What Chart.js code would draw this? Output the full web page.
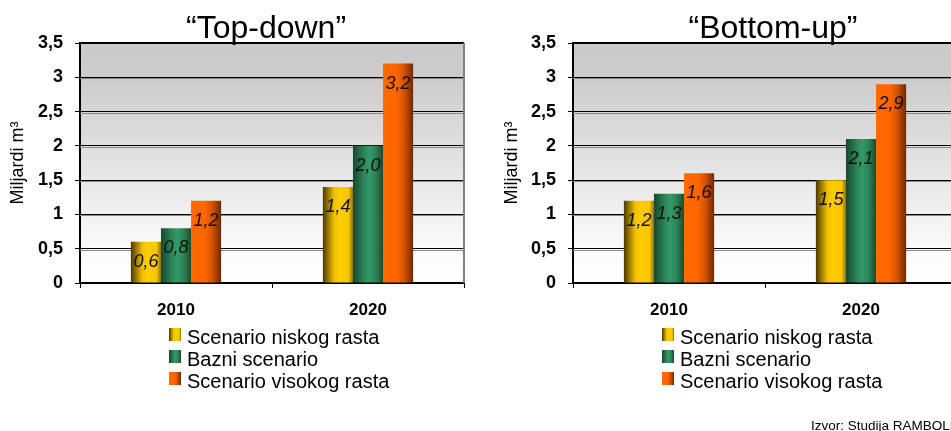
<!DOCTYPE html>
<html>
<head>
<meta charset="utf-8">
<title>Potrošnja gasa – scenariji</title>
<script src="https://cdn.jsdelivr.net/npm/chart.js@4/dist/chart.umd.min.js"></script>
<style>
  html, body { margin: 0; padding: 0; background: #fff; overflow: hidden; width: 951px; height: 431px; }
  canvas { position: absolute; top: 0; }
  #topDown { left: 0; }
  #bottomUp { left: 480px; }
</style>
</head>
<body>
<canvas id="topDown" width="480" height="431"></canvas>
<canvas id="bottomUp" width="490" height="431"></canvas>
<script>
// ---- data ----
const categories = ['2010', '2020'];
const seriesNames = ['Scenario niskog rasta', 'Bazni scenario', 'Scenario visokog rasta'];

const topDownLow  = [0.6, 1.4];
const topDownBase = [0.8, 2.0];
const topDownHigh = [1.2, 3.2];

const bottomUpLow  = [1.2, 1.5];
const bottomUpBase = [1.3, 2.1];
const bottomUpHigh = [1.6, 2.9];

const yTickLabels = ['0', '0,5', '1', '1,5', '2', '2,5', '3', '3,5'];
const yMax = 3.5;
const yStep = 0.5;

// ---- styling ----
const FONT = '"Liberation Sans", Arial, Helvetica, sans-serif';
const flatColors = ['#ffcc00', '#339966', '#ff6600'];
// left-to-right shading of each series: [offset, colour]
const shades = [
  [[0, '#4a3a00'], [0.38, '#f0c000'], [0.55, '#ffcc00'], [0.85, '#f7c700'], [1, '#8c7000']],
  [[0, '#17472e'], [0.4, '#2e8c5c'], [0.55, '#339966'], [0.75, '#2c8457'], [1, '#174a30']],
  [[0, '#ff6a00'], [0.45, '#ff6600'], [0.7, '#d65300'], [1, '#6e2800']]
];

function hGradient(ctx, x0, x1, stops) {
  const g = ctx.createLinearGradient(x0, 0, x1, 0);
  stops.forEach(([o, c]) => g.addColorStop(o, c));
  return g;
}

function formatValue(v) {
  return v.toFixed(1).replace('.', ',');
}

// plot background, bar shading, value labels, heading, legend and note
const plotDecor = {
  id: 'plotDecor',
  beforeDraw(chart) {
    const { ctx, chartArea: a } = chart;
    const g = ctx.createLinearGradient(0, a.top, 0, a.bottom);
    g.addColorStop(0, '#cacaca');
    g.addColorStop(0.14, '#cccccc');
    g.addColorStop(0.5, '#e3e3e3');
    g.addColorStop(0.85, '#fafafa');
    g.addColorStop(1, '#ffffff');
    ctx.save();
    ctx.fillStyle = g;
    ctx.fillRect(a.left, a.top, a.right - a.left, a.bottom - a.top);
    ctx.restore();
  },
  beforeDatasetsDraw(chart) {
    const { ctx, chartArea: a } = chart;
    const ys = chart.scales.y;
    // soft shadow under every grid line
    ctx.save();
    ctx.strokeStyle = '#8a8a8a';
    ctx.lineWidth = 1;
    ys.ticks.forEach(t => {
      if (t.value <= ys.min || t.value >= ys.max) return;
      const y = Math.round(ys.getPixelForValue(t.value)) + 1.5;
      ctx.beginPath();
      ctx.moveTo(a.left, y);
      ctx.lineTo(a.right, y);
      ctx.stroke();
    });
    ctx.restore();
    // cylinder-like shading of the bars
    chart.data.datasets.forEach((ds, i) => {
      const meta = chart.getDatasetMeta(i);
      meta.data.forEach(el => {
        const { x, width } = el.getProps(['x', 'width'], true);
        const fill = hGradient(ctx, x - width / 2, x + width / 2, ds.shade);
        el.options = Object.assign({}, el.options, { backgroundColor: fill });
      });
    });
  },
  afterDatasetsDraw(chart) {
    const { ctx, chartArea: a } = chart;
    ctx.save();
    // value labels inside the top of each bar
    ctx.font = 'italic 18px ' + FONT;
    ctx.fillStyle = '#111';
    ctx.textAlign = 'center';
    ctx.textBaseline = 'middle';
    chart.data.datasets.forEach((ds, i) => {
      chart.getDatasetMeta(i).data.forEach((el, j) => {
        const { x, y } = el.getProps(['x', 'y'], true);
        ctx.fillText(formatValue(ds.data[j]), x, y + 20);
      });
    });
    // frame: top edge and right edge of the plot
    ctx.strokeStyle = '#000';
    ctx.lineWidth = 2;
    ctx.beginPath();
    ctx.moveTo(a.left, a.top);
    ctx.lineTo(a.right, a.top);
    ctx.stroke();
    ctx.strokeStyle = '#808080';
    ctx.beginPath();
    ctx.moveTo(a.right, a.top);
    ctx.lineTo(a.right, a.bottom);
    ctx.stroke();
    ctx.restore();
  },
  afterDraw(chart, args, opts) {
    const { ctx, chartArea: a } = chart;
    ctx.save();
    // heading
    ctx.fillStyle = '#000';
    ctx.font = '32px ' + FONT;
    ctx.textAlign = 'center';
    ctx.textBaseline = 'alphabetic';
    ctx.fillText(opts.heading, opts.headingX, 38);
    // legend
    const sx = a.left + opts.legendOffset;
    ctx.textAlign = 'left';
    ctx.font = '20px ' + FONT;
    chart.data.datasets.forEach((ds, i) => {
      const top = 328 + i * 22;
      ctx.fillStyle = hGradient(ctx, sx, sx + 12, ds.shade);
      ctx.fillRect(sx, top, 12, 13);
      ctx.fillStyle = '#000';
      ctx.fillText(ds.label, sx + 18, top + 16);
    });
    // source note
    if (opts.note) {
      ctx.font = '13.5px ' + FONT;
      ctx.fillText(opts.note, opts.noteX, 430);
    }
    ctx.restore();
  }
};

function makeChart(id, low, base, high, o) {
  const values = [low, base, high];
  return new Chart(document.getElementById(id), {
    type: 'bar',
    data: {
      labels: categories,
      datasets: values.map((v, i) => ({
        label: seriesNames[i],
        data: v,
        backgroundColor: flatColors[i],
        shade: shades[i],
        borderWidth: 0
      }))
    },
    options: {
      responsive: false,
      animation: false,
      events: [],
      layout: { padding: { top: 43, right: o.padRight, bottom: 108, left: 0 } },
      datasets: { bar: { categoryPercentage: 0.47, barPercentage: 1 } },
      plugins: {
        legend: { display: false },
        title: { display: false },
        tooltip: { enabled: false },
        plotDecor: {
          heading: o.heading,
          headingX: o.headingX,
          legendOffset: 89,
          note: o.note,
          noteX: o.noteX
        }
      },
      scales: {
        x: {
          grid: { drawOnChartArea: false, offset: true, tickLength: 5, color: '#000' },
          border: { color: '#000', width: 2 },
          ticks: { color: '#000', padding: 12, font: { family: FONT, size: 17, weight: 'bold' } },
          afterFit: s => { s.height = 40; }
        },
        y: {
          min: 0,
          max: yMax,
          ticks: {
            stepSize: yStep,
            color: '#000',
            padding: 12,
            font: { family: FONT, size: 18, weight: 'bold' },
            callback: v => yTickLabels[Math.round(v / yStep)]
          },
          grid: { color: '#000', lineWidth: 1, tickLength: 5, tickColor: '#000' },
          border: { color: '#000', width: 2 },
          title: {
            display: true,
            text: 'Miljardi m³',
            color: '#000',
            font: { family: FONT, size: 18 },
            padding: { top: o.titlePad, bottom: 0 }
          },
          afterFit: s => { s.width = o.axisWidth; }
        }
      }
    },
    plugins: [plotDecor]
  });
}

makeChart('topDown', topDownLow, topDownBase, topDownHigh, {
  padRight: 16, axisWidth: 80, titlePad: 7,
  heading: '“Top-down”', headingX: 266
});

makeChart('bottomUp', bottomUpLow, bottomUpBase, bottomUpHigh, {
  padRight: 13, axisWidth: 93, titlePad: 21,
  heading: '“Bottom-up”', headingX: 293,
  note: 'Izvor: Studija RAMBOLL', noteX: 331
});
</script>
</body>
</html>
